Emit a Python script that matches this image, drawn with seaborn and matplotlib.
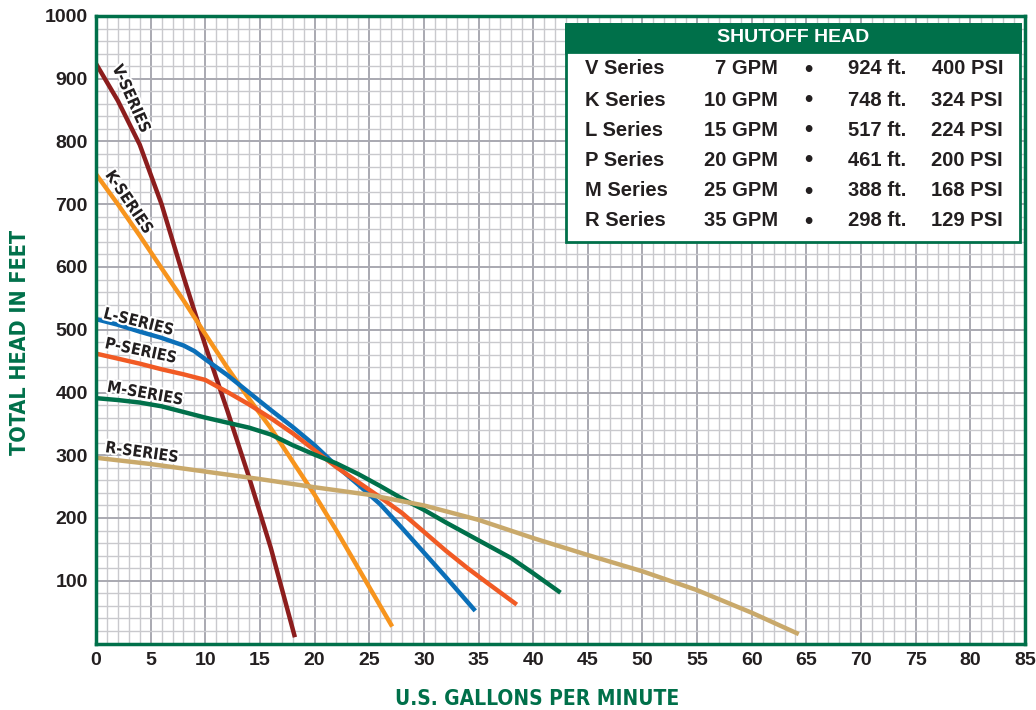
import numpy as np
import pandas as pd
import matplotlib; matplotlib.use("Agg")
import matplotlib.pyplot as plt
import matplotlib.patheffects as pe
from matplotlib.patches import Rectangle
from matplotlib.ticker import MultipleLocator
import seaborn as sns

GREEN = "#00704a"; INK = "#231f20"
COND = dict(family="DejaVu Sans", fontstretch="condensed", fontweight="bold")

# pump curves (GPM, feet)
V_GPM = [0, 2, 4, 6, 8, 10, 12, 14, 16, 18.2]
V_FT = [924, 865, 795, 700, 585, 475, 372, 265, 152, 10]
K_GPM = [0, 2, 4, 6, 8, 10, 12, 14, 16, 18, 20, 22, 24, 26, 27.1]
K_FT = [748, 700, 650, 598, 547, 493, 440, 390, 343, 290, 237, 180, 120, 60, 27]
L_GPM = [0, 2, 4, 6, 8, 9, 10, 12, 14, 16, 18, 20, 22, 24, 26, 28, 30, 32, 34, 34.7]
L_FT = [517, 508, 497, 487, 475, 466, 453, 428, 400, 372, 345, 316, 283, 253, 222, 184, 145, 106, 66, 52]
P_GPM = [0, 2, 4, 6, 8, 10, 12, 14, 16, 18, 20, 22, 24, 26, 28, 30, 32, 34, 36, 38.5]
P_FT = [462, 454, 446, 437, 429, 420, 401, 381, 359, 335, 308, 281, 257, 233, 208, 178, 148, 120, 94, 62]
M_GPM = [0, 2, 4, 6, 8, 10, 12, 14, 16, 18, 20, 22, 24, 26, 28, 30, 32, 34, 36, 38, 40, 42.5]
M_FT = [391, 388, 384, 378, 369, 360, 352, 344, 333, 316, 301, 287, 270, 251, 231, 213, 193, 174, 155, 136, 112, 81]
R_GPM = [0, 5, 10, 15, 20, 25, 30, 35, 40, 45, 50, 55, 60, 64.3]
R_FT = [296, 286, 274, 262, 249, 237, 220, 197, 168, 141, 115, 85, 49, 15]

SERIES = ["V", "K", "L", "P", "M", "R"]
COLORS = ["#8c1d1d", "#f7941d", "#0b6fb8", "#f15a24", "#00704a", "#c9a96b"]
CURVES = [(V_GPM, V_FT), (K_GPM, K_FT), (L_GPM, L_FT), (P_GPM, P_FT), (M_GPM, M_FT), (R_GPM, R_FT)]

# series label: (gpm, ft, rotation)
LABEL_POS = [(3.2, 868, -66), (3.0, 703, -56), (3.9, 512, -14), (4.1, 466, -12), (4.5, 398, -10), (4.2, 304, -8)]

# shutoff head table
T_NAME = ["V Series", "K Series", "L Series", "P Series", "M Series", "R Series"]
T_GPM = ["7 GPM", "10 GPM", "15 GPM", "20 GPM", "25 GPM", "35 GPM"]
T_FT = ["924 ft.", "748 ft.", "517 ft.", "461 ft.", "388 ft.", "298 ft."]
T_PSI = ["400 PSI", "324 PSI", "224 PSI", "200 PSI", "168 PSI", "129 PSI"]

df = pd.concat([pd.DataFrame({"gpm": g, "ft": f, "series": s}) for s, (g, f) in zip(SERIES, CURVES)])

sns.set_theme(style="white")
plt.rcParams["font.family"] = ["Liberation Sans", "DejaVu Sans"]

fig = plt.figure(figsize=(10.36, 7.10), dpi=100)
ax = fig.add_axes([96/1036, 1-643.5/710, (1025-96)/1036, (643.5-16)/710])

ax.set_xlim(0, 85); ax.set_ylim(0, 1000)
ax.xaxis.set_major_locator(MultipleLocator(5)); ax.xaxis.set_minor_locator(MultipleLocator(1))
ax.yaxis.set_major_locator(MultipleLocator(100)); ax.yaxis.set_minor_locator(MultipleLocator(20))
ax.grid(which="minor", color="#c9c9cd", lw=1.0)
ax.grid(which="major", color="#a9a9b1", lw=1.4)
ax.set_axisbelow(True)

sns.lineplot(data=df, x="gpm", y="ft", hue="series", hue_order=SERIES, palette=COLORS,
             lw=3.2, sort=False, legend=False, ax=ax, solid_capstyle="butt")

for s, (x, y, rot) in zip(SERIES, LABEL_POS):
    ax.text(x, y, f"{s}-SERIES", rotation=rot, rotation_mode="anchor", ha="center", va="center",
            fontsize=11.5, color=INK, **COND,
            path_effects=[pe.withStroke(linewidth=3, foreground="white")])

for sp in ax.spines.values():
    sp.set_color(GREEN); sp.set_linewidth(2.5); sp.set_visible(True)

ax.set_yticks(range(100, 1001, 100))
ax.tick_params(axis="both", which="both", length=0, labelsize=14, labelcolor=INK, pad=6)
for lab in ax.get_xticklabels() + ax.get_yticklabels():
    lab.set_fontweight("bold")

ax.set_xlabel("U.S. GALLONS PER MINUTE", fontsize=15, color=GREEN, **COND)
ax.set_ylabel("TOTAL HEAD IN FEET", fontsize=15.5, color=GREEN, **COND)
ax.xaxis.set_label_coords((537-96)/929, -(689-643.5)/627.5)
ax.yaxis.set_label_coords(-(96-30)/929, (643.5-342)/627.5)

# table box
x0, x1 = 566/1036, 1020/1036
ytop, ybot, yhead = 1-24/710, 1-242/710, 1-52/710
fig.add_artist(Rectangle((x0, ybot), x1-x0, ytop-ybot, transform=fig.transFigure,
                         facecolor="white", edgecolor=GREEN, lw=2, zorder=5))
fig.add_artist(Rectangle((x0, yhead), x1-x0, ytop-yhead, transform=fig.transFigure,
                         facecolor=GREEN, edgecolor=GREEN, lw=2, zorder=6))
fig.text((x0+x1)/2, 1-38/710, "SHUTOFF HEAD", ha="center", va="center", color="white",
         fontsize=14, fontweight="bold", zorder=7)
row_y = [69, 100, 130, 160, 191, 221]
for i, ry in enumerate(row_y):
    yy = 1-ry/710
    kw = dict(va="center", fontsize=14.5, fontweight="bold", color=INK, zorder=7)
    fig.text(585/1036, yy, T_NAME[i], ha="left", **kw)
    fig.text(778/1036, yy, T_GPM[i], ha="right", **kw)
    fig.text(808/1036, yy, "•", ha="center", **{**kw, "fontsize": 17})
    fig.text(906/1036, yy, T_FT[i], ha="right", **kw)
    fig.text(1003/1036, yy, T_PSI[i], ha="right", **kw)

fig.savefig("out.png", dpi=100)
